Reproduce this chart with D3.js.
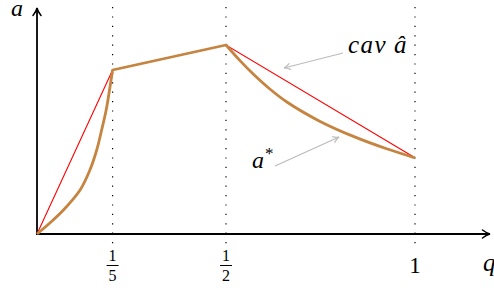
<!DOCTYPE html>
<html>
<head>
<meta charset="utf-8">
<script src="https://cdn.jsdelivr.net/npm/d3@7"></script>
<style>
  html, body { margin: 0; padding: 0; background: #fff; }
  svg { display: block; }
</style>
</head>
<body>
<svg width="494" height="288"></svg>
<script>
// tick positions on q axis and their labels
var tickQ = [0.2, 0.5, 1];
var tickNum = ["1", "1", "1"];
var tickDen = ["5", "2", ""];

// a*: convex piece, straight piece, convex piece
var aLeft = [[0, 0], [0.034, 0.055], [0.07, 0.12], [0.114, 0.22], [0.14, 0.32],
             [0.158, 0.42], [0.171, 0.52], [0.183, 0.62], [0.191, 0.71], [0.2, 0.82]];
var aMid = [[0.2, 0.82], [0.5, 0.945]];
var aRight = [[0.5, 0.945], [0.537, 0.867], [0.572, 0.80], [0.616, 0.725], [0.661, 0.66],
              [0.749, 0.563], [0.837, 0.488], [0.925, 0.426], [1, 0.381]];

// concave hull (cav â)
var cavPts = [[0, 0], [0.2, 0.82], [0.5, 0.945], [1, 0.381]];

var svg = d3.select("svg");
var serif = "'Liberation Serif', 'Times New Roman', Times, serif";

var x = d3.scaleLinear().domain([0, 1]).range([37, 415]);
var y = d3.scaleLinear().domain([0, 1]).range([234, 34]);

var brown = "#c5843f";

// arrow heads like tikz "to"
var defs = svg.append("defs");
function tip(id, col, w, l, h) {
    defs.append("marker")
        .attr("id", id)
        .attr("viewBox", "-9 -5 10 10")
        .attr("refX", 0).attr("refY", 0)
        .attr("markerWidth", 10).attr("markerHeight", 10)
        .attr("markerUnits", "userSpaceOnUse")
        .attr("orient", "auto")
        .append("path")
        .attr("d", "M" + (-l) + "," + (-h) + " Q" + (-l * 0.4) + "," + (-h * 0.15) + " 0,0 Q" + (-l * 0.4) + "," + (h * 0.15) + " " + (-l) + "," + h)
        .attr("fill", "none").attr("stroke", col).attr("stroke-width", w)
        .attr("stroke-linecap", "round");
}
tip("tip", "#000", 1.5, 7.5, 4);
tip("gtip", "#bbb", 1.2, 6, 3);

// dotted guides
svg.selectAll("line.guide")
    .data(tickQ)
    .enter().append("line")
    .attr("class", "guide")
    .attr("x1", d => x(d)).attr("x2", d => x(d))
    .attr("y1", 7).attr("y2", 251)
    .attr("stroke", "#000").attr("stroke-width", 1.2)
    .attr("stroke-dasharray", "1.2,8.2");

// axes
svg.append("line")
    .attr("x1", x(0) - 1).attr("y1", y(0))
    .attr("x2", 490).attr("y2", y(0))
    .attr("stroke", "#000").attr("stroke-width", 1.8)
    .attr("marker-end", "url(#tip)");
svg.append("line")
    .attr("x1", x(0)).attr("y1", y(0) + 1)
    .attr("x2", x(0)).attr("y2", 8)
    .attr("stroke", "#000").attr("stroke-width", 1.8)
    .attr("marker-end", "url(#tip)");

// cav â
var line = d3.line().x(d => x(d[0])).y(d => y(d[1]));
svg.append("path")
    .attr("d", line(cavPts))
    .attr("fill", "none").attr("stroke", "#ff0000").attr("stroke-width", 1.1);

// a*
var curve = d3.line().x(d => x(d[0])).y(d => y(d[1])).curve(d3.curveCatmullRom.alpha(0.5));
svg.append("path")
    .attr("d", curve(aLeft) + line(aMid).replace("M", "L") + curve(aRight).replace("M", "L"))
    .attr("fill", "none").attr("stroke", brown).attr("stroke-width", 2.8)
    .attr("stroke-linejoin", "round");

// label arrows
svg.append("line")
    .attr("x1", 343).attr("y1", 53).attr("x2", 284).attr("y2", 68)
    .attr("stroke", "#bbb").attr("stroke-width", 1.2)
    .attr("marker-end", "url(#gtip)");
svg.append("line")
    .attr("x1", 275).attr("y1", 166).attr("x2", 339).attr("y2", 137)
    .attr("stroke", "#bbb").attr("stroke-width", 1.2)
    .attr("marker-end", "url(#gtip)");

// tick labels
var tl = svg.selectAll("g.tl")
    .data(tickQ.map((d, i) => ({ q: d, n: tickNum[i], den: tickDen[i] })))
    .enter().append("g")
    .attr("class", "tl")
    .attr("font-family", serif)
    .attr("transform", d => "translate(" + x(d.q) + ",0)");
tl.filter(d => d.den !== "").each(function (d) {
    var g = d3.select(this);
    g.append("text").attr("x", 0).attr("y", 260.5).attr("text-anchor", "middle")
        .attr("font-size", 16).text(d.n);
    g.append("line").attr("x1", -6).attr("x2", 6).attr("y1", 265.5).attr("y2", 265.5)
        .attr("stroke", "#000").attr("stroke-width", 1);
    g.append("text").attr("x", 0).attr("y", 281).attr("text-anchor", "middle")
        .attr("font-size", 16).text(d.den);
});
tl.filter(d => d.den === "")
    .append("text").attr("x", 0).attr("y", 273).attr("text-anchor", "middle")
    .attr("font-size", 23).text(d => d.n);

// axis names and curve labels
function lab(tx, ty, s, size) {
    return svg.append("text").attr("x", tx).attr("y", ty)
        .attr("font-family", serif).attr("font-style", "italic")
        .attr("font-size", size).text(s);
}
lab(11, 16, "a", 24);
lab(483, 271, "q", 25);
lab(348, 53, "cav", 25).attr("letter-spacing", 1.5);
lab(394, 53, "â", 25);
var as = lab(252, 168, "", 24);
as.append("tspan").text("a");
as.append("tspan").attr("dy", -9).attr("dx", 1).attr("font-size", 17)
    .attr("font-style", "normal").text("*");
</script>
</body>
</html>
